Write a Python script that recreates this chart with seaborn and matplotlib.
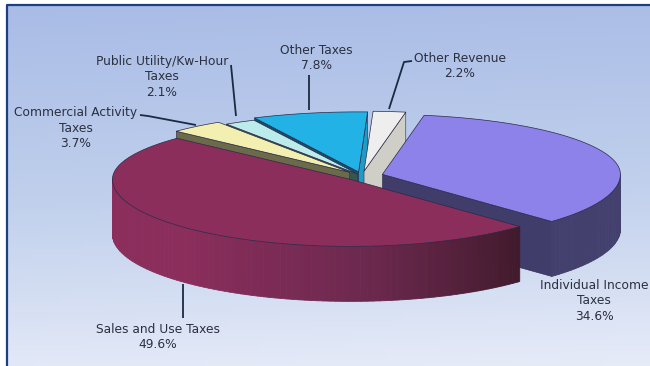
import numpy as np
import seaborn as sns
import matplotlib
matplotlib.use("Agg")
import matplotlib.pyplot as plt
from matplotlib.patches import Polygon

sns.set_theme(style="white")
plt.rcParams["font.family"] = ["DejaVu Sans"]

# Revenue shares, clockwise from the top of the pie
categories = ["Individual Income\nTaxes", "Sales and Use Taxes", "Commercial Activity\nTaxes",
              "Public Utility/Kw-Hour\nTaxes", "Other Taxes", "Other Revenue"]
shares = [34.6, 49.6, 3.7, 2.1, 7.8, 2.2]
explode = [0.09, 0.07, 0.08, 0.035, 0.07, 0.08]
top_colors = ["#8C82EA", "#8B2E5C", "#F2EFB0", "#BCEBEB", "#22B2E6", "#EEEEEE"]
low_cut_colors = ["#403D6B", "#8B2E5C", "#6B6B4B", "#1F6070", "#1F9CC6", "#CFCFC8"]
high_cut_colors = ["#403D6B", "#8B2E5C", "#6B6B4B", "#37574C", "#12506C", "#CFCFC8"]
rim_colors = ["#43406E", "#8B2E5C", "#6B6B4B", "#1F6070", "#1F9CC6", "#CFCFC8"]

# Which wedges paint over which: back of the pie first
draw_order = [4, 3, 2, 5, 0, 1]

START = 79.9
CX, CY = 362, 176
RX, RY_BACK, RY_FRONT = 238, 60, 67
DEPTH = 55


def project(theta, apex):
    """Map an angle on the tilted disc to canvas coordinates."""
    t = np.radians(theta)
    s = np.sin(t)
    ry = np.where(s > 0, RY_BACK, RY_FRONT)
    return apex[0] + RX * np.cos(t), apex[1] - ry * s


fig = plt.figure(figsize=(6.5, 3.66), dpi=100)
ax = fig.add_axes([0, 0, 1, 1])
ax.axis("off")

# Panel background with its blue gradient and frame
grad_cmap = sns.blend_palette(["#A9BCE6", "#BFCFEC", "#E6EBF8"], as_cmap=True)
yy, xx = np.mgrid[0:1:120j, 0:1:120j]
ax.imshow(yy + 0.06 * (xx - 0.5), cmap=grad_cmap, extent=(7, 650, 366, 5), aspect="auto", zorder=0)
ax.set_xlim(0, 650)
ax.set_ylim(366, 0)
ax.plot([7, 7, 650], [366, 5, 5], color="#1B3F80", lw=1.6, zorder=1, solid_capstyle="butt")


def add_poly(points, color, z, edge=None, lw=0.5):
    ax.add_patch(Polygon(points, closed=True, facecolor=color, edgecolor=edge or color,
                         linewidth=lw, zorder=z, joinstyle="round"))


sweeps = np.array(shares) / 100 * 360
ends = START - np.cumsum(sweeps) + sweeps  # high-angle edge of each wedge
starts = ends - sweeps
shade = sns.blend_palette(["#8B2E5C", "#8B2E5C", "#6F2950", "#3F1A2B"], 90)

z = 2
for i in draw_order:
    low, high = starts[i], ends[i]
    mid = np.radians((low + high) / 2)
    s = np.sin(mid)
    apex = (CX + explode[i] * RX * np.cos(mid),
            CY - explode[i] * (RY_BACK if s > 0 else RY_FRONT) * s)

    # Cut faces that turn toward the viewer
    for angle, color, facing in ((high, high_cut_colors[i], np.cos(np.radians(high)) < 0),
                                 (low, low_cut_colors[i], np.cos(np.radians(low)) > 0)):
        if facing:
            ox, oy = project(angle, apex)
            add_poly([(apex[0], apex[1]), (ox, oy), (ox, oy + DEPTH), (apex[0], apex[1] + DEPTH)],
                     color, z, edge="#2A2A4A", lw=0.4)
            z += 1

    # Outer rim, split into narrow strips so it can be shaded along its length
    for a in np.arange(np.floor(low), high, 1.5):
        a0, a1 = max(a, low), min(a + 1.5, high)
        na = (a0 + a1) / 2 % 360
        if not 180 <= na <= 360:
            continue
        x0, y0 = project(a0, apex)
        x1, y1 = project(a1, apex)
        if i == 1:
            color = shade[int(np.clip((na - 180) / (316 - 180) * 89, 0, 89))]
        else:
            color = rim_colors[i]
        add_poly([(x0, y0), (x1, y1), (x1, y1 + DEPTH), (x0, y0 + DEPTH)], color, z, lw=0.6)
    z += 1

    # Top face
    arc = np.linspace(low, high, 160)
    arc_x, arc_y = project(arc, apex)
    pts = np.column_stack([np.r_[apex[0], arc_x], np.r_[apex[1], arc_y]])
    add_poly(pts, top_colors[i], z, edge="#2A2A48", lw=0.5)
    z += 1

# Leader lines from each label to its wedge
leaders = [([231, 236], [65, 116]),
           ([140, 148, 196], [115, 116, 125]),
           ([309, 309], [75, 110]),
           ([412, 404, 389], [61, 62, 109]),
           ([183, 183], [284, 318])]
for lx, ly in leaders:
    ax.plot(lx, ly, color="#1A2A40", lw=1.3, zorder=60, solid_capstyle="butt")

# Category names with their percentages
label_at = [(594, 301), (158, 337), (76, 128), (162, 77), (316, 58), (460, 66)]
for name, share, (tx, ty) in zip(categories, shares, label_at):
    ax.text(tx, ty, f"{name}\n{share:.1f}%", ha="center", va="center", fontsize=8.8,
            color="#2B3040", linespacing=1.26, zorder=70)

fig.savefig("out.png", dpi=100)
